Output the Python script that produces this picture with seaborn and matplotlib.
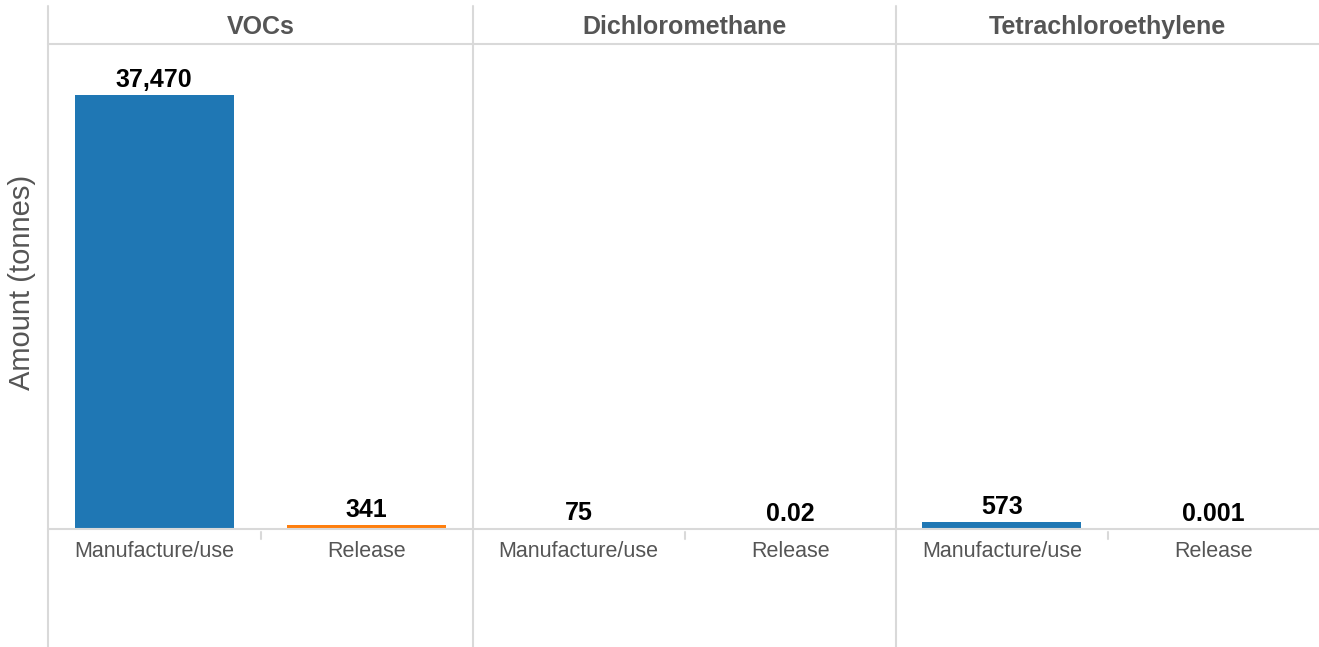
import matplotlib
matplotlib.use("Agg")
import matplotlib.pyplot as plt
from matplotlib.lines import Line2D
import seaborn as sns
import pandas as pd

# Amounts in tonnes per substance
substances = ["VOCs", "Dichloromethane", "Tetrachloroethylene"]
activities = ["Manufacture/use", "Release"]
manufacture_use = [37470, 75, 573]
release = [341, 0.02, 0.001]

colors = {"Manufacture/use": "#1f77b4", "Release": "#ff7f0e"}
grid_c = "#d9d9d9"
text_c = "#555555"

rows = []
for s, m, r in zip(substances, manufacture_use, release):
    rows.append({"Substance": s, "Activity": "Manufacture/use", "Amount": m})
    rows.append({"Substance": s, "Activity": "Release", "Amount": r})
df = pd.DataFrame(rows)

sns.set_theme(style="white")
plt.rcParams["font.family"] = ["Liberation Sans", "DejaVu Sans"]

W, H = 1319, 647
fig = plt.figure(figsize=(W / 100, H / 100), dpi=100)

# panel geometry in pixels
edges = [48, 473, 896, 1319]
base_y, top_y = 528.5, 44
ymax = 41880


def fx(px):
    return px / W


def fy(py):
    return 1 - py / H


axes = []
for i, s in enumerate(substances):
    ax = fig.add_axes([fx(edges[i]), fy(base_y), fx(edges[i + 1] - edges[i]),
                       (base_y - top_y) / H])
    sub = df[df["Substance"] == s]
    sns.barplot(data=sub, x="Activity", y="Amount", hue="Activity",
                order=activities, hue_order=activities, palette=colors,
                width=0.75, legend=False, ax=ax, saturation=1, linewidth=0)
    ax.set_ylim(0, ymax)
    ax.set_xlim(-0.5, 1.5)
    ax.set_yticks([])
    ax.set_xlabel("")
    ax.set_ylabel("")
    for sp in ax.spines.values():
        sp.set_visible(False)
    ax.tick_params(axis="x", length=0, pad=9, labelsize=15.5, labelcolor=text_c)
    for j, act in enumerate(activities):
        v = sub.loc[sub["Activity"] == act, "Amount"].iloc[0]
        lab = f"{v:,.0f}" if v >= 1 else f"{v:g}"
        ax.annotate(lab, (j, v), xytext=(0, 2), textcoords="offset points",
                    ha="center", va="bottom", fontsize=18, fontweight="bold",
                    color="black")
    ax.patch.set_alpha(0)
    axes.append(ax)
    # facet header
    fig.text(fx((edges[i] + edges[i + 1]) / 2), fy(27), s, ha="center",
             va="center", fontsize=18, fontweight="bold", color=text_c)

# panel frame lines
lw = 1.5
for x in edges[:3]:
    fig.add_artist(Line2D([fx(x), fx(x)], [fy(6), fy(H)], color=grid_c, lw=lw))
fig.add_artist(Line2D([fx(48), 1], [fy(top_y), fy(top_y)], color=grid_c, lw=lw))
fig.add_artist(Line2D([fx(48), 1], [fy(base_y), fy(base_y)], color=grid_c, lw=lw))
# small separators between categories
for i in range(3):
    xm = (edges[i] + edges[i + 1]) / 2
    fig.add_artist(Line2D([fx(xm), fx(xm)], [fy(532), fy(539)], color=grid_c, lw=lw))

fig.text(fx(22), fy(282), "Amount (tonnes)", rotation=90,
         ha="center", va="center", fontsize=21, color=text_c)

fig.savefig("out.png", dpi=100)
